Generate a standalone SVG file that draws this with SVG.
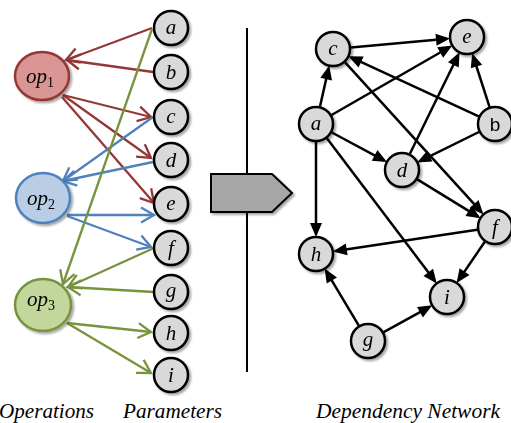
<svg xmlns="http://www.w3.org/2000/svg" width="511" height="423" viewBox="0 0 511 423">
<defs>
<style>
.pn{fill:#d9d9d9;stroke:#000;stroke-width:2.5}
.lbl{font-family:"Liberation Serif",serif;font-style:italic;font-size:21px;text-anchor:middle;fill:#000}
.sub{font-style:normal;font-size:14px}
.cap{font-family:"Liberation Serif",serif;font-style:italic;font-size:20px;fill:#000}
.red{stroke:#953735;stroke-width:2.3;fill:none;marker-end:url(#mr)}
.blue{stroke:#4f81bd;stroke-width:2.3;fill:none;marker-end:url(#mb)}
.green{stroke:#77933c;stroke-width:2.3;fill:none;marker-end:url(#mg)}
.blk{stroke:#000;stroke-width:2.5;fill:none;marker-end:url(#mk)}
</style>
<filter id="sh" x="-30%" y="-30%" width="160%" height="160%">
<feDropShadow dx="2" dy="2" stdDeviation="1" flood-color="#000" flood-opacity="0.35"/>
</filter>
<marker id="mr" markerUnits="userSpaceOnUse" markerWidth="16" markerHeight="16" refX="13" refY="7" orient="auto" overflow="visible"><path d="M0,-0.5 L13,7 L0,14.5" fill="none" stroke="#953735" stroke-width="2.3"/></marker>
<marker id="mb" markerUnits="userSpaceOnUse" markerWidth="16" markerHeight="16" refX="13" refY="7" orient="auto" overflow="visible"><path d="M0,-0.5 L13,7 L0,14.5" fill="none" stroke="#4f81bd" stroke-width="2.3"/></marker>
<marker id="mg" markerUnits="userSpaceOnUse" markerWidth="16" markerHeight="16" refX="13" refY="7" orient="auto" overflow="visible"><path d="M0,-0.5 L13,7 L0,14.5" fill="none" stroke="#77933c" stroke-width="2.3"/></marker>
<marker id="mk" markerUnits="userSpaceOnUse" markerWidth="14" markerHeight="12" refX="11" refY="6" orient="auto" overflow="visible"><path d="M0,0 L14,6 L0,12 z" fill="#000"/></marker>
</defs>
<rect width="511" height="423" fill="#fff"/>

<g id="connectors">
<path class="red" d="M152,28 L66,60"/>
<path class="red" d="M153,72 L67,60"/>
<path class="red" d="M63,95 L151,117"/>
<path class="red" d="M63,95 L151,158"/>
<path class="red" d="M62,97 L154,203"/>
<path class="blue" d="M153,117 L63,181"/>
<path class="blue" d="M153,162 L63,181"/>
<path class="blue" d="M67,215 L154,215"/>
<path class="blue" d="M67,216 L151,247"/>
<path class="green" d="M152,29 L63,284"/>
<path class="green" d="M154,248 L68,287"/>
<path class="green" d="M154,292 L68,287"/>
<path class="green" d="M67,323 L151,332"/>
<path class="green" d="M67,323 L151,373"/>

<path class="blk" d="M351,47.4 L447,38.8"/>
<path class="blk" d="M320,106.5 L328.6,68.4"/>
<path class="blk" d="M331.6,115 L449.7,47"/>
<path class="blk" d="M478.7,116.4 L351.1,57.4"/>
<path class="blk" d="M489.5,106.9 L473.1,56"/>
<path class="blk" d="M478.9,132 L419.9,161.1"/>
<path class="blk" d="M331.9,132.5 L384.3,160.6"/>
<path class="blk" d="M409.9,153.8 L458.2,55"/>
<path class="blk" d="M345.1,62.3 L481.5,212.2"/>
<path class="blk" d="M417.3,179.4 L478,216.6"/>
<path class="blk" d="M316,142 L316,234"/>
<path class="blk" d="M326.9,138.3 L434.9,281.1"/>
<path class="blk" d="M477.2,229.7 L335.8,251"/>
<path class="blk" d="M484.8,241.8 L458.3,280.6"/>
<path class="blk" d="M358.8,325.6 L326.2,271.1"/>
<path class="blk" d="M383.7,332.2 L429.6,306.8"/>
</g>

<g id="divider">
<line x1="247" y1="28" x2="247" y2="372" stroke="#000" stroke-width="2"/>
<path d="M211,174 L272,174 L292,193 L272,212 L211,212 Z" fill="#a6a6a6" stroke="#000" stroke-width="2" filter="url(#sh)"/>
</g>

<g id="op1" filter="url(#sh)"><ellipse cx="42" cy="76" rx="27" ry="24" fill="#d99694" stroke="#953735" stroke-width="2.5"/><text class="lbl" x="40" y="83">op<tspan class="sub" dy="4">1</tspan></text></g>
<g id="op2" filter="url(#sh)"><ellipse cx="43" cy="198" rx="27" ry="25" fill="#b9cde5" stroke="#4f81bd" stroke-width="2.5"/><text class="lbl" x="41" y="205">op<tspan class="sub" dy="4">2</tspan></text></g>
<g id="op3" filter="url(#sh)"><ellipse cx="43" cy="305" rx="28" ry="26" fill="#c3d69b" stroke="#77933c" stroke-width="2.5"/><text class="lbl" x="41" y="306">op<tspan class="sub" dy="4">3</tspan></text></g>

<g id="pa" filter="url(#sh)"><circle class="pn" cx="171" cy="28" r="17"/><text class="lbl" x="171" y="34">a</text></g>
<g id="pb" filter="url(#sh)"><circle class="pn" cx="171" cy="72" r="17"/><text class="lbl" x="171" y="79">b</text></g>
<g id="pc" filter="url(#sh)"><circle class="pn" cx="171" cy="117" r="17"/><text class="lbl" x="171" y="123">c</text></g>
<g id="pd" filter="url(#sh)"><circle class="pn" cx="171" cy="160" r="17"/><text class="lbl" x="171" y="167">d</text></g>
<g id="pe" filter="url(#sh)"><circle class="pn" cx="171" cy="204" r="17"/><text class="lbl" x="171" y="210">e</text></g>
<g id="pf" filter="url(#sh)"><circle class="pn" cx="171" cy="248" r="17"/><text class="lbl" x="171" y="255">f</text></g>
<g id="pg" filter="url(#sh)"><circle class="pn" cx="171" cy="292" r="17"/><text class="lbl" x="171" y="297">g</text></g>
<g id="ph" filter="url(#sh)"><circle class="pn" cx="171" cy="333" r="17"/><text class="lbl" x="171" y="340">h</text></g>
<g id="pi" filter="url(#sh)"><circle class="pn" cx="171" cy="375" r="17"/><text class="lbl" x="171" y="382">i</text></g>

<g id="na" filter="url(#sh)"><circle class="pn" cx="316" cy="124" r="17"/><text class="lbl" x="316" y="130">a</text></g>
<g id="nb" filter="url(#sh)"><circle class="pn" cx="495" cy="124" r="17"/><text x="495" y="131" font-family="Liberation Sans, sans-serif" font-size="19" text-anchor="middle">b</text></g>
<g id="nc" filter="url(#sh)"><circle class="pn" cx="333" cy="49" r="17"/><text class="lbl" x="333" y="55">c</text></g>
<g id="nd" filter="url(#sh)"><circle class="pn" cx="402" cy="170" r="17"/><text class="lbl" x="402" y="177">d</text></g>
<g id="ne" filter="url(#sh)"><circle class="pn" cx="467" cy="37" r="17"/><text class="lbl" x="467" y="43">e</text></g>
<g id="nf" filter="url(#sh)"><circle class="pn" cx="495" cy="227" r="17"/><text class="lbl" x="495" y="234">f</text></g>
<g id="ng" filter="url(#sh)"><circle class="pn" cx="368" cy="341" r="17"/><text class="lbl" x="368" y="346">g</text></g>
<g id="nh" filter="url(#sh)"><circle class="pn" cx="316" cy="254" r="17"/><text class="lbl" x="316" y="261">h</text></g>
<g id="ni" filter="url(#sh)"><circle class="pn" cx="447" cy="297" r="17"/><text class="lbl" x="447" y="304">i</text></g>

<g id="captions">
<text class="cap" x="-1" y="418" textLength="95" lengthAdjust="spacingAndGlyphs">Operations</text>
<text class="cap" x="123" y="418" textLength="99" lengthAdjust="spacingAndGlyphs">Parameters</text>
<text class="cap" x="316" y="418" textLength="184" lengthAdjust="spacingAndGlyphs">Dependency Network</text>
</g>
</svg>
